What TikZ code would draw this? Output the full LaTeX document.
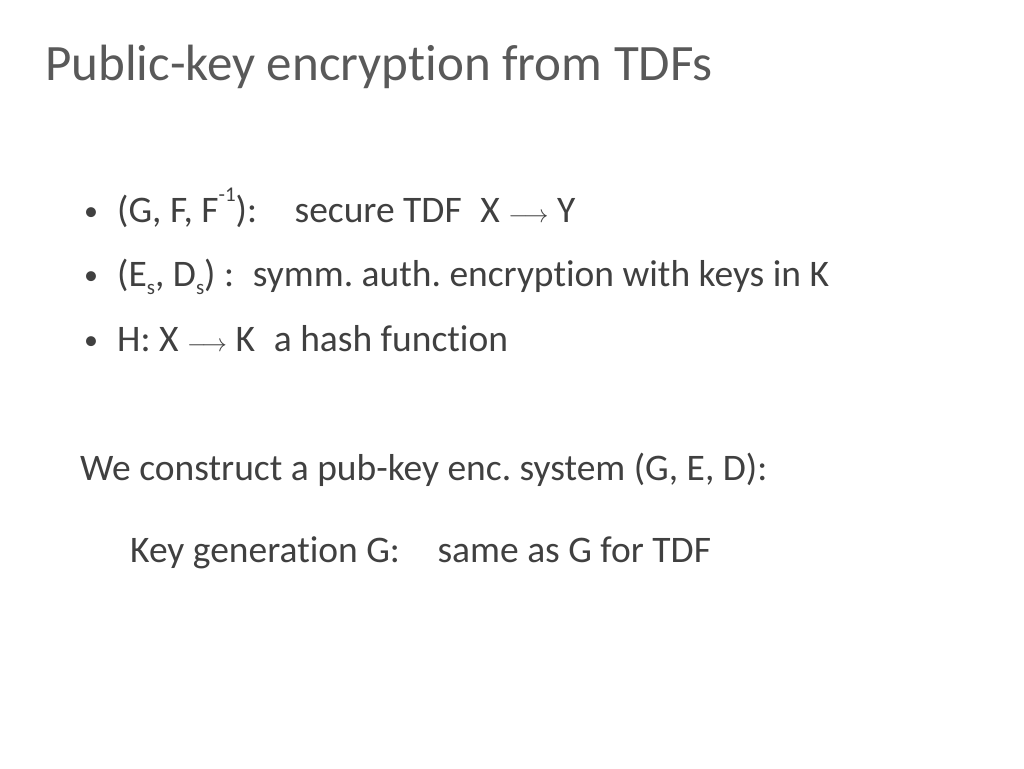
\documentclass[tikz,border=0pt]{standalone}
\usepackage{fontspec}
\setmainfont[Ligatures=NoCommon]{Carlito}
\usepackage{tikz}
\usetikzlibrary{positioning}
\definecolor{mytitlegray}{RGB}{89,89,89}
\definecolor{mytextgray}{RGB}{64,64,64}
\newcommand{\mysub}[1]{\raisebox{-.22em}{\fontsize{21}{21}\selectfont #1}}
\newcommand{\mysup}[1]{\raisebox{.55em}{\fontsize{21}{21}\selectfont #1}}

\begin{document}
\frenchspacing
\begin{tikzpicture}[
  x=1pt, y=-1pt,
  mytitle/.style={anchor=base west, inner sep=0pt, text=mytitlegray,
    font=\fontsize{51}{60}\selectfont},
  mytext/.style={anchor=base west, inner sep=0pt, text=mytextgray,
    font=\fontsize{37.5}{44}\selectfont},
  mybullet/.style={anchor=base west, inner sep=0pt, text=mytextgray,
    font=\fontsize{28}{34}\selectfont}
]
\useasboundingbox[fill=white] (0,0) rectangle (1024,768);
\node [mytitle] (title) at (45,81) {Public-key encryption from TDFs};

\node [mybullet] (b1) at (84,220) {\textbullet};
\node [mytext] (l1) at (117,222)
  {(G, F, F\mysup{-1}):\quad secure TDF\enspace X $\longrightarrow$ Y};
\node [mybullet] (b2) at (84,284) {\textbullet};
\node [mytext] (l2) at (117,286)
  {(E\mysub{s}, D\mysub{s}) :\enspace symm. auth. encryption with keys in K};
\node [mybullet] (b3) at (84,349) {\textbullet};
\node [mytext] (l3) at (117,351) {H: X $\longrightarrow$ K\enspace a hash function};

\node [mytext] (cons) at (80,480) {We construct a pub-key enc. system (G, E, D):};
\node [mytext] (keygen) at (130,562) {Key generation G:\quad same as G for TDF};
\end{tikzpicture}
\end{document}
